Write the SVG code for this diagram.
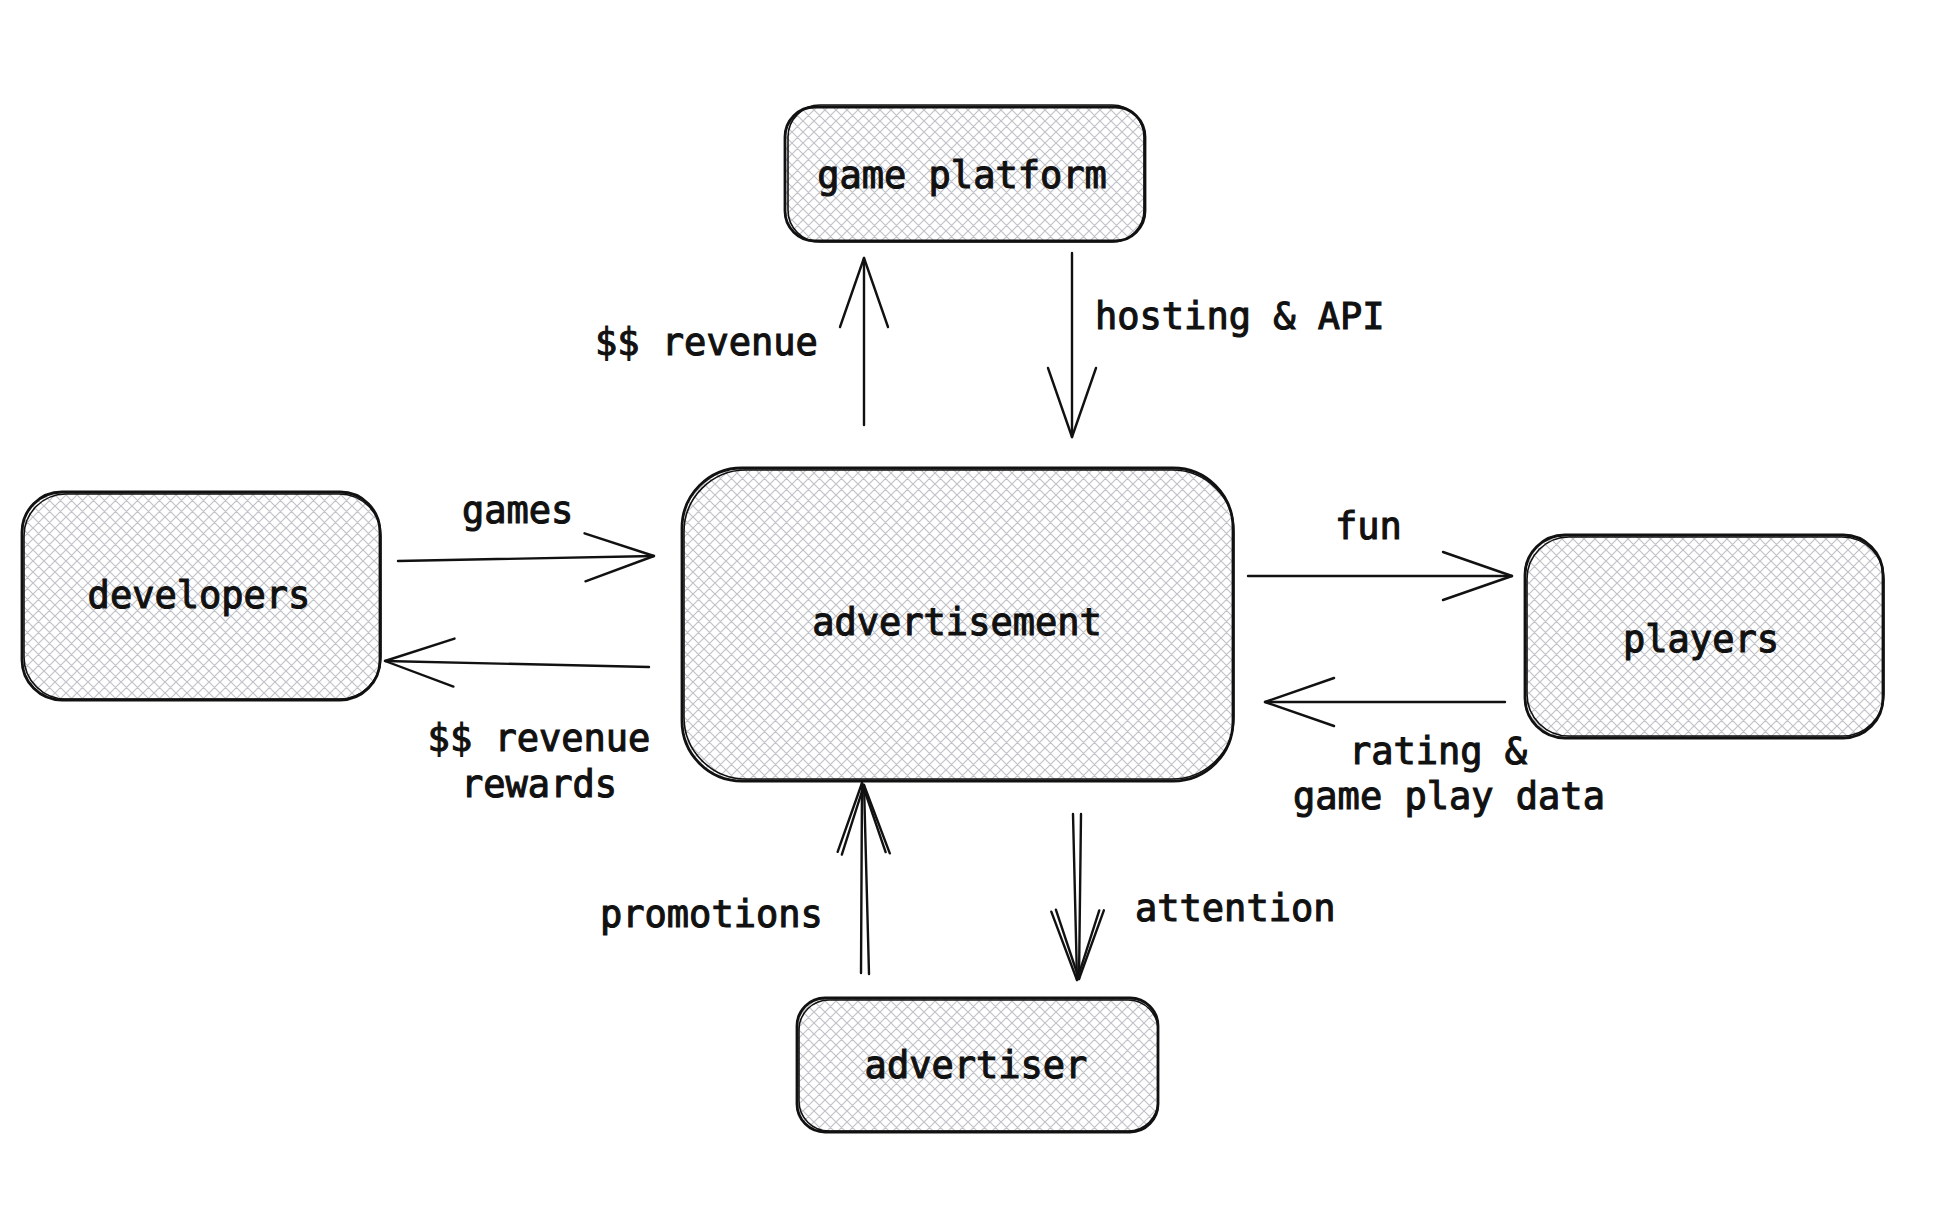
<svg xmlns="http://www.w3.org/2000/svg" width="1952" height="1206" viewBox="0 0 1952 1206">
<defs>
<pattern id="hatch" patternUnits="userSpaceOnUse" width="11" height="11">
<rect width="11" height="11" fill="#ffffff"/>
<path d="M0 0 L11 11 M-1 10 L1 12 M10 -1 L12 1 M11 0 L0 11 M-1 1 L1 -1 M10 12 L12 10" stroke="#c2c3c8" stroke-width="1.2"/>
</pattern>
<marker id="arr" markerUnits="userSpaceOnUse" markerWidth="90" markerHeight="70" refX="80" refY="35" orient="auto" overflow="visible">
<path d="M11 11 L80 35 L11 59" fill="none" stroke="#111" stroke-width="2.4" stroke-linecap="round" stroke-linejoin="round"/>
</marker>
</defs>
<style>
.box{fill:url(#hatch);stroke:#111;stroke-width:2.8}
.box2{fill:none;stroke:#111;stroke-width:1.6}
.lbl{font-family:"DejaVu Sans Mono","Liberation Mono",monospace;font-size:37px;fill:#111;stroke:#111;stroke-width:1.1}
.c{text-anchor:middle}
.ln{fill:none;stroke:#111;stroke-width:2.4;stroke-linecap:round}
</style>
<rect width="1952" height="1206" fill="#ffffff"/>

<g id="game-platform">
<rect class="box" x="785" y="107" width="360" height="134" rx="30"/>
<rect class="box2" x="788" y="105" width="356" height="137" rx="32"/>
<text class="lbl c" x="962" y="188">game platform</text>
</g>

<g id="developers">
<rect class="box" x="22" y="492" width="358" height="208" rx="40"/>
<rect class="box2" x="24" y="494" width="357" height="205" rx="42"/>
<text class="lbl c" x="199" y="608">developers</text>
</g>

<g id="advertisement">
<rect class="box" x="682" y="468" width="551" height="313" rx="60"/>
<rect class="box2" x="684" y="470" width="550" height="309" rx="62"/>
<text class="lbl c" x="957" y="635">advertisement</text>
</g>

<g id="players">
<rect class="box" x="1525" y="535" width="358" height="203" rx="40"/>
<rect class="box2" x="1527" y="537" width="357" height="199" rx="42"/>
<text class="lbl c" x="1701" y="652">players</text>
</g>

<g id="advertiser">
<rect class="box" x="797" y="998" width="361" height="134" rx="28"/>
<rect class="box2" x="799" y="1000" width="359" height="131" rx="30"/>
<text class="lbl c" x="976" y="1078">advertiser</text>
</g>

<g id="connectors">
<path class="ln" d="M864 425 L864 258" marker-end="url(#arr)"/>
<path class="ln" d="M1072 253 L1072 437" marker-end="url(#arr)"/>
<path class="ln" d="M398 561 L654 556" marker-end="url(#arr)"/>
<path class="ln" d="M649 667 L385 661" marker-end="url(#arr)"/>
<path class="ln" d="M1248 576 L1512 576" marker-end="url(#arr)"/>
<path class="ln" d="M1505 702 L1265 702" marker-end="url(#arr)"/>
<path class="ln" d="M861 973 L862 783" marker-end="url(#arr)"/>
<path class="ln" d="M869 974 L864 785" marker-end="url(#arr)"/>
<path class="ln" d="M1073 814 Q1075 900 1077 980" marker-end="url(#arr)"/>
<path class="ln" d="M1081 814 Q1080 900 1079 979" marker-end="url(#arr)"/>
</g>

<g id="labels">
<text class="lbl" x="595" y="355">$$ revenue</text>
<text class="lbl" x="1095" y="329">hosting &amp; API</text>
<text class="lbl" x="462" y="523">games</text>
<text class="lbl c" x="539" y="751">$$ revenue</text>
<text class="lbl c" x="539" y="797">rewards</text>
<text class="lbl" x="1335" y="539">fun</text>
<text class="lbl c" x="1438" y="764">rating &amp;</text>
<text class="lbl c" x="1449" y="809">game play data</text>
<text class="lbl" x="600" y="927">promotions</text>
<text class="lbl" x="1135" y="921">attention</text>
</g>
</svg>
